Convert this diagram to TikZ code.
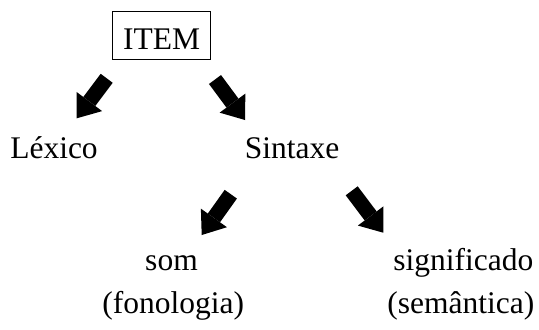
\documentclass[tikz,border=0pt]{standalone}
\usepackage{fontspec}
\setmainfont{Liberation Serif}
\usetikzlibrary{arrows.meta}

\begin{document}
\begin{tikzpicture}[x=0.5pt,y=-0.5pt,
    every node/.style={font=\fontsize{15.75}{18}\selectfont, inner sep=0pt},
    bigarrow/.style={line width=7.5pt, -{Triangle[length=10.5pt,width=16pt,line width=0pt]}}]
    \useasboundingbox (0,0) rectangle (539,329);
    % text positions (baselines)
    \coordinate (I) at (161.7,49.3);
    \coordinate (L) at (54,158.3);
    \coordinate (S) at (292,158.3);
    \coordinate (M) at (171.5,270);
    \coordinate (G) at (463.3,270);
    \coordinate (F) at (173.3,313);
    \coordinate (T) at (460.8,313);
    \node [anchor=base, draw, line width=0.6pt, inner xsep=5.25pt, inner ysep=5pt,
           text height=14pt, text depth=0pt] (item) at (I) {ITEM};
    \node [anchor=base] (lexico) at (L) {Léxico};
    \node [anchor=base] (sintaxe) at (S) {Sintaxe};
    \node [anchor=base] (som) at (M) {som};
    \node [anchor=base] (signif) at (G) {significado};
    \node [anchor=base] (fono) at (F) {(fonologia)};
    \node [anchor=base] (sem) at (T) {(semântica)};
    % arrow ends
    \coordinate (itemLeft) at (106.7,78.3);
    \coordinate (lexicoTop) at (76.7,118.3);
    \coordinate (itemRight) at (215,79.5);
    \coordinate (sintaxeTop) at (245,120);
    \coordinate (sintaxeLeft) at (230.8,194.2);
    \coordinate (somTop) at (201.7,235);
    \coordinate (sintaxeRight) at (351.7,190.8);
    \coordinate (signifTop) at (383.3,232.7);
    \draw [bigarrow] (itemLeft) -- (lexicoTop);
    \draw [bigarrow] (itemRight) -- (sintaxeTop);
    \draw [bigarrow] (sintaxeLeft) -- (somTop);
    \draw [bigarrow] (sintaxeRight) -- (signifTop);
\end{tikzpicture}
\end{document}
